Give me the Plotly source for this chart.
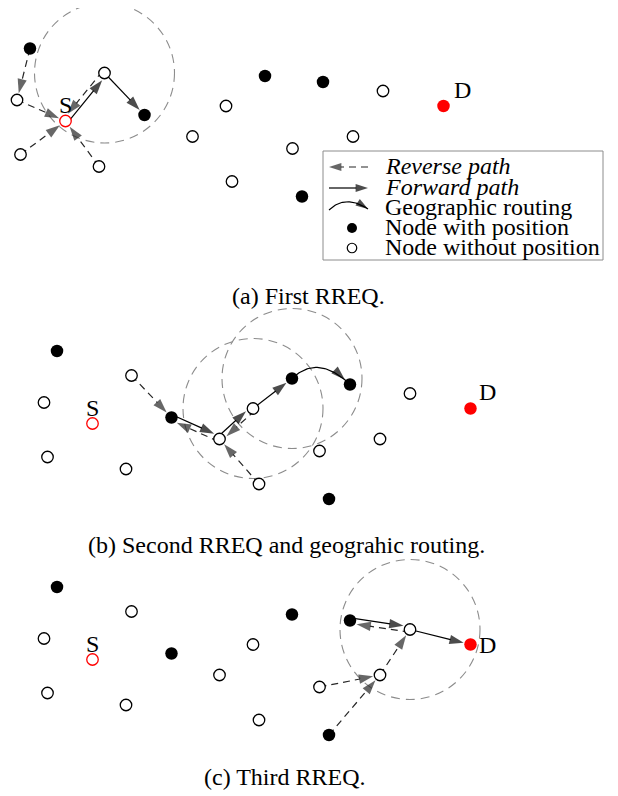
import numpy as np
import plotly.graph_objects as go

# ---------------- data ----------------
node_names = ["n1", "n2", "S", "n4", "n5", "n6", "n7", "n8", "n9", "n10",
              "n11", "n12", "n13", "n14", "n15", "D", "n17"]
node_x = [30, 17, 65.5, 20.5, 99, 104.5, 144.5, 192.5, 226, 265,
          323, 292.5, 232, 302, 383, 443.5, 353]
node_y = [48.5, 100, 121, 154.5, 166.5, 73, 115, 136.5, 106, 76,
          82, 148.5, 181.5, 196.5, 91, 106, 136.5]
node_kind = ["pos", "nopos", "source", "nopos", "nopos", "nopos", "pos", "nopos", "nopos", "pos",
             "pos", "nopos", "nopos", "pos", "nopos", "dest", "nopos"]

panel_captions = ["(a) First RREQ.",
                  "(b) Second RREQ and geograhic routing.",
                  "(c) Third RREQ."]

arrows_a = [("n1", "n2", "rev"), ("n2", "S", "rev"), ("n4", "S", "rev"), ("n5", "S", "rev"),
            ("n6", "S", "rev"), ("S", "n6", "fwd"), ("n6", "n7", "fwd")]
arrows_b = [("n6", "n7", "rev"), ("n8", "n7", "rev"), ("n7", "n8", "fwd"), ("n9", "n8", "rev"),
            ("n8", "n9", "fwd"), ("n13", "n8", "rev"), ("n9", "n10", "fwd"), ("n10", "n11", "geo")]
arrows_c = [("n11", "n15", "fwd"), ("n15", "n11", "rev"), ("n15", "D", "fwd"),
            ("n12", "n17", "rev"), ("n14", "n17", "rev"), ("n17", "n15", "rev")]
panel_arrows = [arrows_a, arrows_b, arrows_c]
range_centres = [["n6"], ["n9", "n10"], ["n15"]]

legend_labels = ["Reverse path", "Forward path", "Geographic routing",
                 "Node with position", "Node without position"]

# ---------------- layout / style ----------------
W, H = 618, 796
PAGE_OFF = 8          # page body margin of the browser
FIG_W, FIG_H = W - PAGE_OFF, H - PAGE_OFF
panel_offsets = [(0, 0), (27, 302.5), (27, 538.5)]
pair_side = [1, -1, -1]
caption_pos = [(308, 296), (286, 545), (285, 777)]
d_label_off = [(18.5, -16), (17, -17), (17, 0)]
RADIO_R = 70
PAIR_GAP = 2.7
FONT = "Liberation Serif, Times New Roman, serif"
FS = 24
REV_COLOR = "#262626"
FWD_COLOR = "#000000"
CIRCLE_COLOR = "#8c8c8c"
STANDOFF = 7
HEAD = 15

idx = {n: i for i, n in enumerate(node_names)}
fig = go.Figure()


def add_arrow(xs, ys, color, dash, standoff, size=HEAD):
    n = len(xs)
    fig.add_trace(go.Scatter(
        x=list(xs), y=list(ys), mode="lines+markers",
        line=dict(color=color, width=1.2, dash=dash),
        marker=dict(symbol="arrow", size=[0] * (n - 1) + [size], angleref="previous",
                    color=color, standoff=[0] * (n - 1) + [standoff], line=dict(width=0)),
        hoverinfo="skip", showlegend=False))


def bezier(p0, c, p1, n=40):
    t = np.linspace(0, 1, n)
    bx = (1 - t) ** 2 * p0[0] + 2 * (1 - t) * t * c[0] + t ** 2 * p1[0]
    by = (1 - t) ** 2 * p0[1] + 2 * (1 - t) * t * c[1] + t ** 2 * p1[1]
    return bx, by


shapes = []
annotations = []

for p, (ox, oy) in enumerate(panel_offsets):
    px = [x + ox for x in node_x]
    py = [y + oy for y in node_y]
    for c in range_centres[p]:
        cx, cy = px[idx[c]], py[idx[c]]
        shapes.append(dict(type="circle", xref="x", yref="y",
                           x0=cx - RADIO_R, x1=cx + RADIO_R, y0=cy - RADIO_R, y1=cy + RADIO_R,
                           line=dict(color=CIRCLE_COLOR, width=1.1, dash="9px,6px"),
                           layer="below"))
    pairs = {(a, b) for a, b, k in panel_arrows[p]}
    for a, b, kind in panel_arrows[p]:
        x0, y0 = px[idx[a]], py[idx[a]]
        x1, y1 = px[idx[b]], py[idx[b]]
        dx, dy = x1 - x0, y1 - y0
        L = np.hypot(dx, dy)
        if kind == "geo":
            mx, my = (x0 + x1) / 2, (y0 + y1) / 2
            nx, ny = dy / L, -dx / L
            ctrl = (mx + nx * 28 - 6, my + ny * 28)
            bx, by = bezier((x0, y0), ctrl, (x1, y1))
            add_arrow(bx, by, FWD_COLOR, "solid", STANDOFF)
            continue
        if (b, a) in pairs:
            nx, ny = -dy / L, dx / L
            s = pair_side[p] * PAIR_GAP
            x0, y0, x1, y1 = x0 + nx * s, y0 + ny * s, x1 + nx * s, y1 + ny * s
        if kind == "rev":
            add_arrow([x0, x1], [y0, y1], REV_COLOR, "7px,5px", STANDOFF)
        else:
            add_arrow([x0, x1], [y0, y1], FWD_COLOR, "solid", STANDOFF)

    styles = {
        "nopos": dict(size=11.5, color="white", line=dict(color="black", width=1.3)),
        "pos": dict(size=12.5, color="black", line=dict(color="black", width=0)),
        "source": dict(size=11.5, color="white", line=dict(color="#ff0000", width=1.3)),
        "dest": dict(size=12.5, color="#ff0000", line=dict(color="#ff0000", width=0)),
    }
    for kind, st in styles.items():
        xs = [px[i] for i in range(len(node_names)) if node_kind[i] == kind]
        ys = [py[i] for i in range(len(node_names)) if node_kind[i] == kind]
        fig.add_trace(go.Scatter(x=xs, y=ys, mode="markers",
                                 marker=dict(symbol="circle", **st),
                                 hoverinfo="skip", showlegend=False))
    sx, sy = px[idx["S"]], py[idx["S"]]
    annotations.append(dict(x=sx, y=sy - 16, text="S", showarrow=False,
                            font=dict(family=FONT, size=FS, color="black"),
                            xanchor="center", yanchor="middle"))
    dx_, dy_ = px[idx["D"]], py[idx["D"]]
    annotations.append(dict(x=dx_ + d_label_off[p][0], y=dy_ + d_label_off[p][1], text="D",
                            showarrow=False, font=dict(family=FONT, size=FS, color="black"),
                            xanchor="center", yanchor="middle"))
    annotations.append(dict(x=caption_pos[p][0], y=caption_pos[p][1], text=panel_captions[p],
                            showarrow=False, font=dict(family=FONT, size=FS, color="black"),
                            xanchor="center", yanchor="middle"))

# ---------------- legend ----------------
LX0, LX1, LY0, LY1 = 323, 603, 151, 260
shapes.append(dict(type="rect", xref="x", yref="y", x0=LX0, x1=LX1, y0=LY0, y1=LY1,
                   line=dict(color="#8c8c8c", width=1), fillcolor="white", layer="below"))
ly = [167, 188, 208, 228, 248]
sx0, sx1 = 329, 368
add_arrow([sx1, sx0], [ly[0], ly[0]], REV_COLOR, "7px,5px", 0, size=13)
add_arrow([sx0, sx1], [ly[1], ly[1]], FWD_COLOR, "solid", 0, size=13)
gx, gy = bezier((sx0, ly[2] + 2), ((sx0 + sx1) / 2 - 3, ly[2] - 14), (sx1, ly[2] + 1))
add_arrow(gx, gy, FWD_COLOR, "solid", 0, size=13)
fig.add_trace(go.Scatter(x=[352], y=[ly[3]], mode="markers",
                         marker=dict(symbol="circle", size=10, color="black"),
                         hoverinfo="skip", showlegend=False))
fig.add_trace(go.Scatter(x=[352], y=[ly[4]], mode="markers",
                         marker=dict(symbol="circle", size=9.5, color="white",
                                     line=dict(color="black", width=1.2)),
                         hoverinfo="skip", showlegend=False))
for i, lab in enumerate(legend_labels):
    txt = f"<i>{lab}</i>" if i < 2 else lab
    annotations.append(dict(x=383, y=ly[i] - 1, text=txt, showarrow=False,
                            font=dict(family=FONT, size=FS, color="black"),
                            xanchor="left", yanchor="middle"))

fig.update_layout(
    width=FIG_W, height=FIG_H, margin=dict(l=0, r=0, t=0, b=0),
    paper_bgcolor="white", plot_bgcolor="white",
    xaxis=dict(range=[PAGE_OFF, PAGE_OFF + FIG_W], visible=False, fixedrange=True),
    yaxis=dict(range=[PAGE_OFF + FIG_H, PAGE_OFF], visible=False, fixedrange=True),
    shapes=shapes, annotations=annotations, showlegend=False,
)
fig.write_html("out.html")
